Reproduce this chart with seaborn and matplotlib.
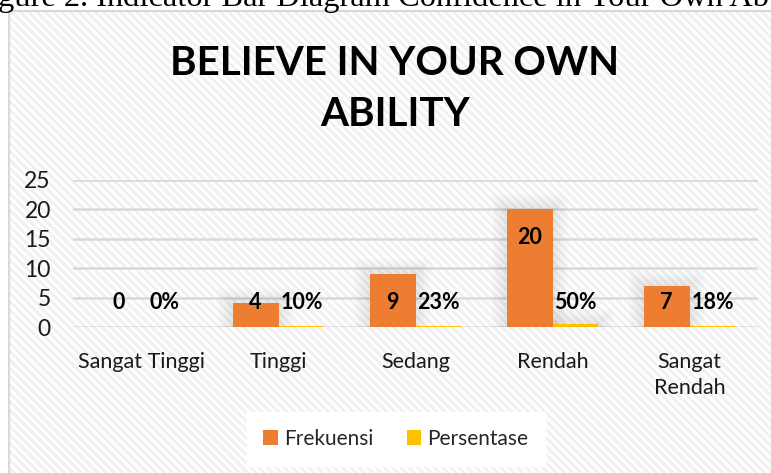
import numpy as np
import pandas as pd
import seaborn as sns
import matplotlib
matplotlib.use("Agg")
import matplotlib.pyplot as plt
from matplotlib.patches import Rectangle

categories = ["Sangat Tinggi", "Tinggi", "Sedang", "Rendah", "Sangat\nRendah"]
frekuensi = [0, 4, 9, 20, 7]
persentase = [0.0, 0.10, 0.23, 0.50, 0.18]
series_names = ["Frekuensi", "Persentase"]
yticks = [0, 5, 10, 15, 20, 25]
title = "BELIEVE IN YOUR OWN\nABILITY"
caption = "gure 2. Indicator Bar Diagram Confidence in Your Own Ab"

sns.set_theme(style="white")
plt.rcParams["font.family"] = ["Lato", "DejaVu Sans"]
plt.rcParams["hatch.linewidth"] = 2.2

df = pd.DataFrame({
    "cat": categories * 2,
    "val": frekuensi + persentase,
    "series": [series_names[0]] * 5 + [series_names[1]] * 5,
})

W, H = 771, 473
fig = plt.figure(figsize=(W / 100, H / 100), dpi=100)
fig.patch.set_facecolor("white")

# chart area background with diagonal hatch
bg = Rectangle((9 / W, -0.05), 1.1, 1 - 11 / H + 0.05, transform=fig.transFigure,
               facecolor="white", edgecolor="#F1F1F1", hatch="\\\\\\\\", lw=0, zorder=-10)
fig.patches.append(bg)
border = Rectangle((9 / W, -0.05), 1.1, 1 - 11 / H + 0.05, transform=fig.transFigure,
                   facecolor="none", edgecolor="#D9D9D9", lw=1.5, zorder=-9)
fig.patches.append(border)

fig.text(-2 / W, 1 - 6 / H, caption, family="Liberation Serif", fontsize=23.4,
         ha="left", va="baseline", color="black")

ax = fig.add_axes([73 / W, 1 - 327 / H, 685 / W, 147 / H])
ax.patch.set_alpha(0)
sns.barplot(data=df, x="cat", y="val", hue="series", order=categories,
            palette={"Frekuensi": "#ED7D31", "Persentase": "#FFC000"},
            width=0.67, saturation=1, ax=ax, legend=True, zorder=3,
            linewidth=0, edgecolor="none")
ax.set_ylim(0, 25)
ax.set_xlim(-0.5, 4.5)
ax.set_yticks(yticks)
ax.set_yticklabels([str(t) for t in yticks])
ax.yaxis.grid(True, color="#D9D9D9", lw=1.8, zorder=0)
ax.set_axisbelow(True)
for s in ax.spines.values():
    s.set_visible(False)
ax.set_xlabel("")
ax.set_ylabel("")
ax.tick_params(axis="y", labelsize=16.5, pad=16, length=0, colors="#1a1a1a")
ax.tick_params(axis="x", labelsize=15.5, pad=18, length=0, colors="#1a1a1a")
for lbl in ax.get_xticklabels():
    lbl.set_linespacing(1.35)

# soft glow behind the bars (styling derived from the drawn bars)
px_x = 1 / 137.0
px_y = 25 / 147.0
for bar in list(ax.patches):
    h = bar.get_height()
    if h <= 0.3:
        continue
    x0, w = bar.get_x(), bar.get_width()
    for k in range(1, 12):
        ex, ey = k * 1.4 * px_x, k * 1.4 * px_y
        r = Rectangle((x0 - ex, 0), w + 2 * ex, h + ey, facecolor="#808080",
                      edgecolor="none", alpha=0.016, zorder=2)
        ax.add_patch(r)

# data labels
bw = 0.67 / 2
for i, (f, p) in enumerate(zip(frekuensi, persentase)):
    fy = f - 4.7 if f > 12 else 4.1
    ax.text(i - bw / 2, fy, f"{f}", ha="center", va="center",
            fontsize=15.5, fontweight="bold", color="black", zorder=5)
    ax.text(i + bw / 2, 4.1, f"{round(p * 100)}%", ha="center", va="center",
            fontsize=15.5, fontweight="bold", color="black", zorder=5)

fig.text(395 / W, 1 - 89 / H, title, ha="center", va="center", fontsize=29,
         fontweight="bold", linespacing=1.45, color="black")

leg = ax.legend(loc="center", bbox_to_anchor=(396 / W, 1 - 439 / H),
                bbox_transform=fig.transFigure, ncol=2, frameon=True,
                fontsize=15, handlelength=0.7, handleheight=0.7,
                handletextpad=0.3, columnspacing=1.6, borderpad=0.8,
                borderaxespad=0)
leg.get_frame().set_facecolor("white")
leg.get_frame().set_edgecolor("white")
leg.get_frame().set_alpha(1)
leg.get_frame().set_boxstyle("square", pad=0)

fig.savefig("out.png", dpi=100)
